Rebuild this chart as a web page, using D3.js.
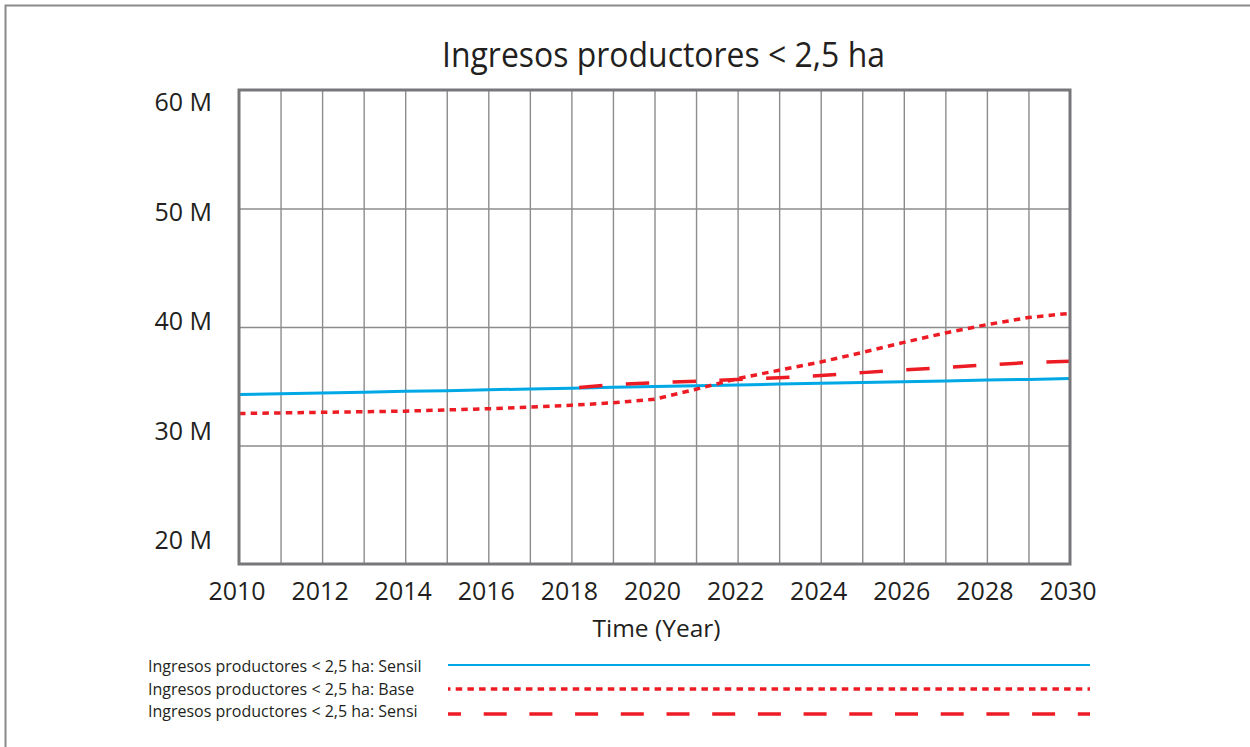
<!DOCTYPE html>
<html><head><meta charset="utf-8">
<script src="https://cdn.jsdelivr.net/npm/d3@7"></script>
<style>
body{margin:0;background:#fff}
svg{display:block}
text{font-family:"Open Sans",sans-serif;fill:#231f20}
</style>
</head><body>
<svg id="c" width="1250" height="747"></svg>
<script>
// ---- data ----
const title = "Ingresos productores < 2,5 ha";
const xTitle = "Time (Year)";
const years = [2010,2011,2012,2013,2014,2015,2016,2017,2018,2019,2020,2021,2022,2023,2024,2025,2026,2027,2028,2029,2030];
const xTickLabels = [2010,2012,2014,2016,2018,2020,2022,2024,2026,2028,2030];
const yTicks = [20,30,40,50,60];               // millions
const seriesNames = ["Ingresos productores < 2,5 ha: Sensil","Ingresos productores < 2,5 ha: Base","Ingresos productores < 2,5 ha: Sensi"];
const sensil = [34.30,34.37,34.43,34.50,34.57,34.63,34.70,34.77,34.84,34.91,34.98,35.05,35.11,35.18,35.25,35.32,35.38,35.45,35.52,35.58,35.65];
const base   = [32.70,32.75,32.80,32.85,32.90,33.00,33.10,33.25,33.40,33.60,33.90,34.75,35.65,36.35,37.05,37.85,38.70,39.50,40.20,40.80,41.15];
const sensiYears = [2018,2019,2020,2021,2022,2023,2024,2025,2026,2027,2028,2029,2030];
const sensi  = [34.84,35.15,35.30,35.42,35.57,35.72,35.90,36.15,36.38,36.58,36.80,37.00,37.12];

// ---- layout ----
const svg = d3.select("#c");
const L = 239, R = 1070, T = 90, B = 564;
const x = d3.scaleLinear().domain([2010,2030]).range([L,R]);
const y = d3.scaleLinear().domain([20,60]).range([B,T]);
const yLab = d3.scaleLinear().domain([20,60]).range([549,111]); // label baselines

// outer frame (top & left)
svg.append("path").attr("d","M5.5,747V5.5H1250").attr("fill","none").attr("stroke","#8a8a8a").attr("stroke-width",2);

// title
svg.append("text").attr("x",663.5).attr("y",67).attr("text-anchor","middle")
  .attr("font-size",35).attr("textLength",443).attr("lengthAdjust","spacingAndGlyphs").text(title);

// grid vertical
const gx = svg.append("g").attr("transform",`translate(0,${B})`)
  .call(d3.axisBottom(x).tickValues(years.slice(1,-1)).tickSize(-(B-T)).tickFormat(""));
gx.select(".domain").remove();
gx.selectAll("line").attr("stroke","#8c8c8c").attr("stroke-width",1.4);
// grid horizontal
const gy = svg.append("g").attr("transform",`translate(${L},0)`)
  .call(d3.axisLeft(y).tickValues(yTicks.slice(1,-1)).tickSize(-(R-L)).tickFormat(""));
gy.select(".domain").remove();
gy.selectAll("line").attr("stroke","#8c8c8c").attr("stroke-width",1.4);

// y labels
svg.append("g").selectAll("text").data(yTicks).join("text")
  .attr("x",212).attr("y",d=>yLab(d)).attr("text-anchor","end").attr("font-size",25)
  .text(d=>d+" M");
// x labels
svg.append("g").selectAll("text").data(xTickLabels).join("text")
  .attr("x",d=>x(d)-2).attr("y",600).attr("text-anchor","middle").attr("font-size",25)
  .text(d=>d);
svg.append("text").attr("x",656.5).attr("y",637).attr("text-anchor","middle").attr("font-size",24.5).text(xTitle);

// lines
const line = d3.line().x(d=>x(d[0])).y(d=>y(d[1]));
const styles = [
  {color:"#00a9e6", w:3, dash:null, off:0, legDash:null, legOff:0},
  {color:"#ed1c24", w:3.5, dash:"6.5,5.2", off:0, legDash:"6.5,5.2", legOff:4},
  {color:"#ed1c24", w:3.5, dash:"23.4,23.4", off:39, legDash:"23,22.7", legOff:10}
];
const data = [
  years.map((yr,i)=>[yr,sensil[i]]),
  years.map((yr,i)=>[yr,base[i]]),
  sensiYears.map((yr,i)=>[yr,sensi[i]])
];
const plot = svg.append("g");
data.forEach((d,i)=>{
  const p = plot.append("path").attr("d",line(d)).attr("fill","none")
    .attr("stroke",styles[i].color).attr("stroke-width",styles[i].w);
  if(styles[i].dash) p.attr("stroke-dasharray",styles[i].dash).attr("stroke-dashoffset",styles[i].off);
});

// plot border
svg.append("rect").attr("x",L).attr("y",T).attr("width",R-L).attr("height",B-T)
  .attr("fill","none").attr("stroke","#77777a").attr("stroke-width",3);

// legend
const legY = [672,695,717];
const legLineY = [665,689,714];
seriesNames.forEach((n,i)=>{
  svg.append("text").attr("x",148).attr("y",legY[i]).attr("font-size",16).text(n);
  const l = svg.append("line").attr("x1",448).attr("x2",1090).attr("y1",legLineY[i]).attr("y2",legLineY[i])
    .attr("stroke",styles[i].color).attr("stroke-width",i===0?2:3.5);
  if(styles[i].legDash) l.attr("stroke-dasharray",styles[i].legDash).attr("stroke-dashoffset",styles[i].legOff);
});
</script>
</body></html>
